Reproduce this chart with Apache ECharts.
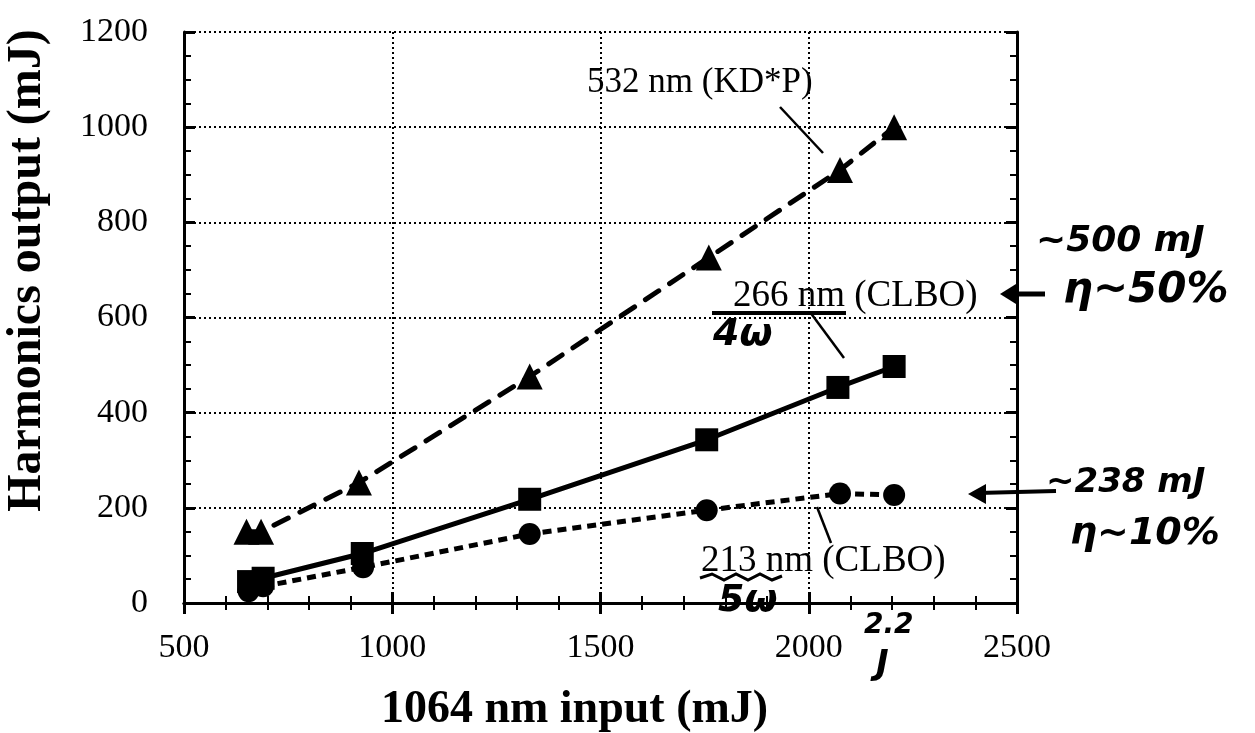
<!DOCTYPE html>
<html>
<head>
<meta charset="utf-8">
<script src="https://cdn.jsdelivr.net/npm/echarts@6/dist/echarts.min.js"></script>
<style>
  html, body { margin: 0; padding: 0; background: #fff; }
  #chart { width: 1255px; height: 733px; }
</style>
</head>
<body>
<div id="chart"></div>
<script>
// ---- data ----
const input532 = [650, 685, 920, 1330, 1760, 2075, 2205];
const output532 = [150, 150, 253, 476, 726, 910, 1000];
const input266 = [655, 690, 928, 1330, 1755, 2070, 2205];
const output266 = [45, 52, 104, 218, 343, 453, 497];
const input213 = [655, 690, 930, 1330, 1755, 2075, 2205];
const output213 = [25, 35, 75, 145, 195, 230, 227];
const xTicks = [500, 1000, 1500, 2000, 2500];
const yTicks = [0, 200, 400, 600, 800, 1000, 1200];
const seriesNames = ['532 nm (KD*P)', '266 nm (CLBO)', '213 nm (CLBO)'];

const SERIF = '"Liberation Serif", "Times New Roman", serif';
const HAND = '"DejaVu Sans", sans-serif';

function pairs(xs, ys) { return xs.map((x, i) => [x, ys[i]]); }
const plain = v => String(v);

const chart = echarts.init(document.getElementById('chart'), null, { renderer: 'canvas' });

const axisCommon = {
  type: 'value',
  axisLine: { show: true, lineStyle: { color: '#000', width: 3 } },
  axisTick: { show: true, inside: true, length: 11, lineStyle: { color: '#000', width: 3 } },
  minorTick: { show: true, length: 7, lineStyle: { color: '#000', width: 2 } },
};

const option = {
  animation: false,
  backgroundColor: '#fff',
  grid: { left: 184, right: 238, top: 32, bottom: 130, containLabel: false, outerBoundsMode: 'none' },
  xAxis: [
    Object.assign({}, axisCommon, {
      position: 'bottom',
      min: xTicks[0], max: xTicks[xTicks.length - 1], interval: 500,
      minorTick: Object.assign({}, axisCommon.minorTick, { splitNumber: 5 }),
      splitLine: { show: true, lineStyle: { color: '#000', width: 2, type: [2, 3] } },
      axisLabel: { fontFamily: SERIF, fontSize: 34, color: '#000', margin: 28, formatter: plain },
      name: '1064 nm input (mJ)', nameLocation: 'middle', nameGap: 84,
      nameTextStyle: { fontFamily: SERIF, fontSize: 46, fontWeight: 'bold', color: '#000', padding: [0, 52, 0, 0] }
    }),
    Object.assign({}, axisCommon, {
      position: 'top',
      min: xTicks[0], max: xTicks[xTicks.length - 1], interval: 500,
      minorTick: Object.assign({}, axisCommon.minorTick, { splitNumber: 5 }),
      splitLine: { show: false }, axisLabel: { show: false }
    })
  ],
  yAxis: [
    Object.assign({}, axisCommon, {
      position: 'left',
      min: yTicks[0], max: yTicks[yTicks.length - 1], interval: 200,
      minorTick: Object.assign({}, axisCommon.minorTick, { splitNumber: 4 }),
      splitLine: { show: true, lineStyle: { color: '#000', width: 2, type: [2, 3] } },
      axisLabel: { fontFamily: SERIF, fontSize: 34, color: '#000', margin: 36, formatter: plain },
      name: 'Harmonics output (mJ)', nameLocation: 'middle', nameGap: 132, nameRotate: 90,
      nameTextStyle: { fontFamily: SERIF, fontSize: 48, fontWeight: 'bold', color: '#000', padding: [0, 0, 0, 94] }
    }),
    Object.assign({}, axisCommon, {
      position: 'right',
      min: yTicks[0], max: yTicks[yTicks.length - 1], interval: 200,
      minorTick: Object.assign({}, axisCommon.minorTick, { splitNumber: 4 }),
      splitLine: { show: false }, axisLabel: { show: false }
    })
  ],
  series: [
    {
      name: seriesNames[0], type: 'line', xAxisIndex: 0, yAxisIndex: 0,
      data: pairs(input532, output532),
      symbol: 'triangle', symbolSize: 26,
      itemStyle: { color: '#000' },
      lineStyle: { color: '#000', width: 5, type: [16, 13], cap: 'round' },
      z: 5
    },
    {
      name: seriesNames[1], type: 'line', xAxisIndex: 0, yAxisIndex: 0,
      data: pairs(input266, output266),
      symbol: 'rect', symbolSize: 23,
      itemStyle: { color: '#000' },
      lineStyle: { color: '#000', width: 5, type: 'solid' },
      z: 5
    },
    {
      name: seriesNames[2], type: 'line', xAxisIndex: 0, yAxisIndex: 0,
      data: pairs(input213, output213),
      symbol: 'circle', symbolSize: 22,
      itemStyle: { color: '#000' },
      lineStyle: { color: '#000', width: 5, type: [9, 6] },
      z: 5
    }
  ],
  graphic: [
    // printed annotations
    { type: 'text', left: 587, top: 65, style: { text: seriesNames[0], font: '35px ' + SERIF, fill: '#000' }, z: 10 },
    { type: 'line', shape: { x1: 780, y1: 107, x2: 823, y2: 153 }, style: { stroke: '#000', lineWidth: 2.5 }, z: 10 },
    { type: 'text', left: 733, top: 278, style: { text: seriesNames[1], font: '37px ' + SERIF, fill: '#000' }, z: 10 },
    { type: 'line', shape: { x1: 810, y1: 312, x2: 844, y2: 358 }, style: { stroke: '#000', lineWidth: 2.5 }, z: 10 },
    { type: 'text', left: 701, top: 543, style: { text: seriesNames[2], font: '37px ' + SERIF, fill: '#000' }, z: 10 },
    { type: 'line', shape: { x1: 817, y1: 507, x2: 831, y2: 543 }, style: { stroke: '#000', lineWidth: 2.5 }, z: 10 },
    // handwritten notes
    { type: 'line', shape: { x1: 712, y1: 313, x2: 846, y2: 313 }, style: { stroke: '#000', lineWidth: 4 }, z: 10 },
    { type: 'text', left: 713, top: 316, style: { text: '4ω', font: 'italic bold 38px ' + HAND, fill: '#000' }, z: 10 },
    { type: 'polyline', shape: { points: [[700,578],[712,574],[724,580],[736,574],[748,580],[760,574],[772,580],[782,576]] }, style: { stroke: '#000', lineWidth: 3, fill: null }, z: 10 },
    { type: 'text', left: 718, top: 582, style: { text: '5ω', font: 'italic bold 38px ' + HAND, fill: '#000' }, z: 10 },
    { type: 'text', left: 864, top: 612, style: { text: '2.2', font: 'italic bold 28px ' + HAND, fill: '#000' }, z: 10 },
    { type: 'text', left: 876, top: 648, style: { text: 'J', font: 'italic bold 34px ' + HAND, fill: '#000' }, z: 10 },
    { type: 'text', left: 1036, top: 224, style: { text: '~500 mJ', font: 'italic bold 36px ' + HAND, fill: '#000' }, z: 10 },
    { type: 'text', left: 1063, top: 270, style: { text: 'η~50%', font: 'italic bold 42px ' + HAND, fill: '#000' }, z: 10 },
    { type: 'line', shape: { x1: 1008, y1: 294, x2: 1045, y2: 294 }, style: { stroke: '#000', lineWidth: 5 }, z: 10 },
    { type: 'polygon', shape: { points: [[1000,294],[1016,284],[1016,304]] }, style: { fill: '#000' }, z: 10 },
    { type: 'text', left: 1046, top: 466, style: { text: '~238 mJ', font: 'italic bold 34px ' + HAND, fill: '#000' }, z: 10 },
    { type: 'text', left: 1070, top: 515, style: { text: 'η~10%', font: 'italic bold 38px ' + HAND, fill: '#000' }, z: 10 },
    { type: 'line', shape: { x1: 978, y1: 493, x2: 1056, y2: 491 }, style: { stroke: '#000', lineWidth: 4 }, z: 10 },
    { type: 'polygon', shape: { points: [[968,494],[986,484],[986,504]] }, style: { fill: '#000' }, z: 10 }
  ]
};

chart.setOption(option);
</script>
</body>
</html>
